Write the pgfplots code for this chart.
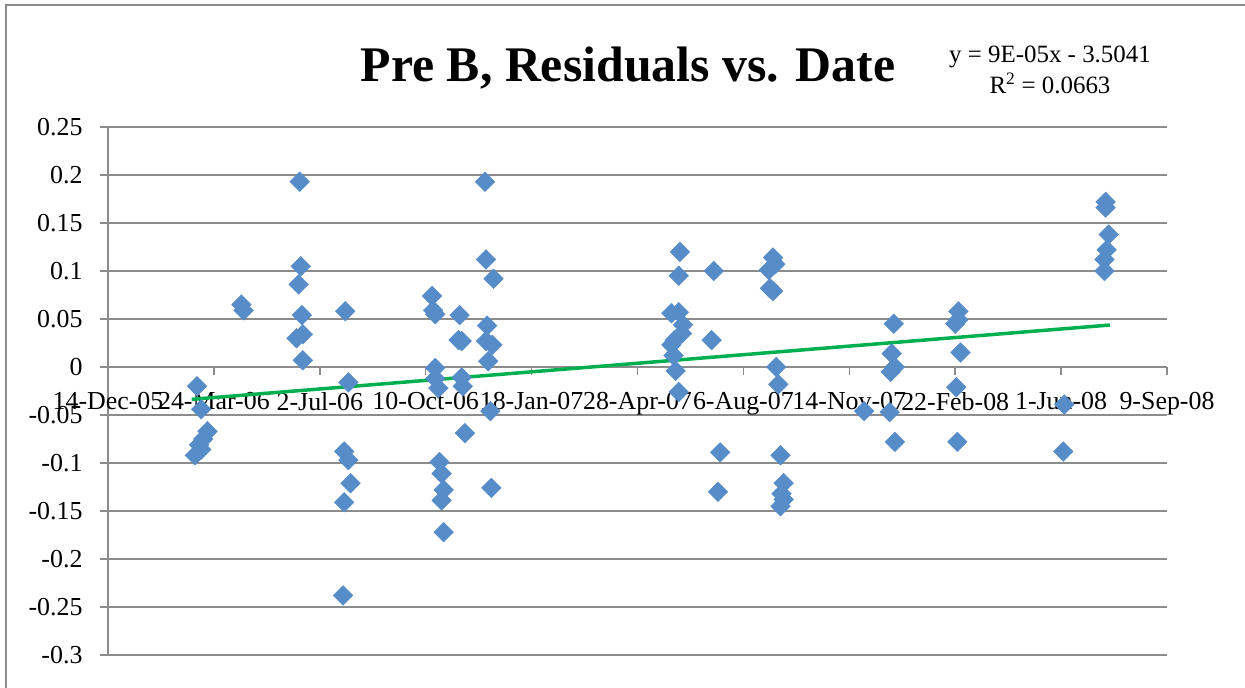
\documentclass[border=0pt]{standalone}
\usepackage{pgfplots}
\pgfplotsset{compat=1.18}
\usepackage{fontspec}
\setmainfont{Liberation Serif}
\definecolor{mk}{RGB}{86,140,200}
\definecolor{tl}{RGB}{0,176,80}
\definecolor{gr}{RGB}{140,140,140}
\begin{document}
\begin{tikzpicture}[x=1bp,y=1bp]
\path[use as bounding box] (-108,-33) rectangle (1137,655);
\draw[gr, line width=1.5bp] (-102,-40) -- (-102,650) -- (1145,650);
\begin{axis}[
  at={(0,0)}, anchor=south west,
  scale only axis, width=1059bp, height=528bp,
  xmin=38700, xmax=39700, ymin=-0.3, ymax=0.25,
  axis x line=middle, axis y line=left,
  axis line style={-, gr, line width=1.5bp},
  hide obscured x ticks=false, hide obscured y ticks=false,
  scaled x ticks=false, scaled y ticks=false,
  xtick={38700,38800,38900,39000,39100,39200,39300,39400,39500,39600,39700},
  xticklabels={14-Dec-05,24-Mar-06,2-Jul-06,10-Oct-06,18-Jan-07,28-Apr-07,6-Aug-07,14-Nov-07,22-Feb-08,1-Jun-08,9-Sep-08},
  ytick={-0.3,-0.25,-0.2,-0.15,-0.1,-0.05,0,0.05,0.1,0.15,0.2,0.25},
  yticklabels={-0.3,-0.25,-0.2,-0.15,-0.1,-0.05,0,0.05,0.1,0.15,0.2,0.25},
  tick align=outside, major tick length=8bp,
  tick style={gr, line width=1.5bp},
  minor tick num=0,
  ymajorgrids, grid style={gr, line width=1.5bp},
  tick label style={font=\fontsize{26}{31}\selectfont},
  xticklabel style={yshift=-14bp},
  yticklabel style={xshift=-14bp},
  clip=false,
]
\addplot[only marks, mark=square*, mark size=7pt, mark options={rotate=45, fill=mk, draw=mk}] table[x=d, y=r] {
d r
38784 -0.020
38788 -0.044
38794 -0.067
38790 -0.075
38786 -0.081
38788 -0.086
38782 -0.092
38826 0.065
38828 0.059
38881 0.193
38882 0.105
38880 0.086
38883 0.054
38884 0.034
38878 0.030
38884 0.007
38924 0.058
38927 -0.016
38923 -0.088
38927 -0.097
38929 -0.121
38923 -0.141
38922 -0.238
39006 0.074
39007 0.059
39009 0.055
39009 -0.001
39009 -0.012
39012 -0.022
39013 -0.099
39015 -0.111
39017 -0.128
39015 -0.139
39017 -0.172
39032 0.054
39031 0.028
39034 0.027
39034 -0.011
39035 -0.020
39037 -0.069
39056 0.193
39057 0.112
39064 0.092
39058 0.043
39057 0.027
39063 0.023
39059 0.006
39061 -0.046
39062 -0.126
39240 0.120
39239 0.095
39232 0.056
39239 0.057
39243 0.044
39242 0.035
39235 0.028
39232 0.023
39234 0.012
39236 -0.004
39239 -0.026
39272 0.100
39270 0.028
39278 -0.089
39276 -0.130
39328 0.114
39330 0.107
39324 0.101
39325 0.082
39328 0.079
39331 0.000
39333 -0.018
39335 -0.092
39338 -0.121
39336 -0.132
39338 -0.138
39335 -0.145
39414 -0.046
39442 0.045
39440 0.014
39443 0.000
39439 -0.005
39438 -0.047
39443 -0.078
39503 0.058
39503 0.049
39500 0.045
39505 0.015
39501 -0.021
39502 -0.078
39603 -0.039
39602 -0.088
39642 0.172
39642 0.166
39645 0.138
39643 0.122
39641 0.112
39641 0.100
};
\addplot[tl, line width=3.5bp] coordinates {(38779,-0.0337) (39646,0.0437)};
\end{axis}
\node[anchor=base, font=\fontsize{50}{60}\selectfont\bfseries] at (520,573) {Pre B, Residuals vs. Date};
\node[anchor=base, font=\fontsize{25}{30}\selectfont] at (942,592) {y = 9E-05x - 3.5041};
\node[anchor=base, font=\fontsize{25}{30}\selectfont] at (942,561) {R\textsuperscript{2} = 0.0663};
\end{tikzpicture}
\end{document}
